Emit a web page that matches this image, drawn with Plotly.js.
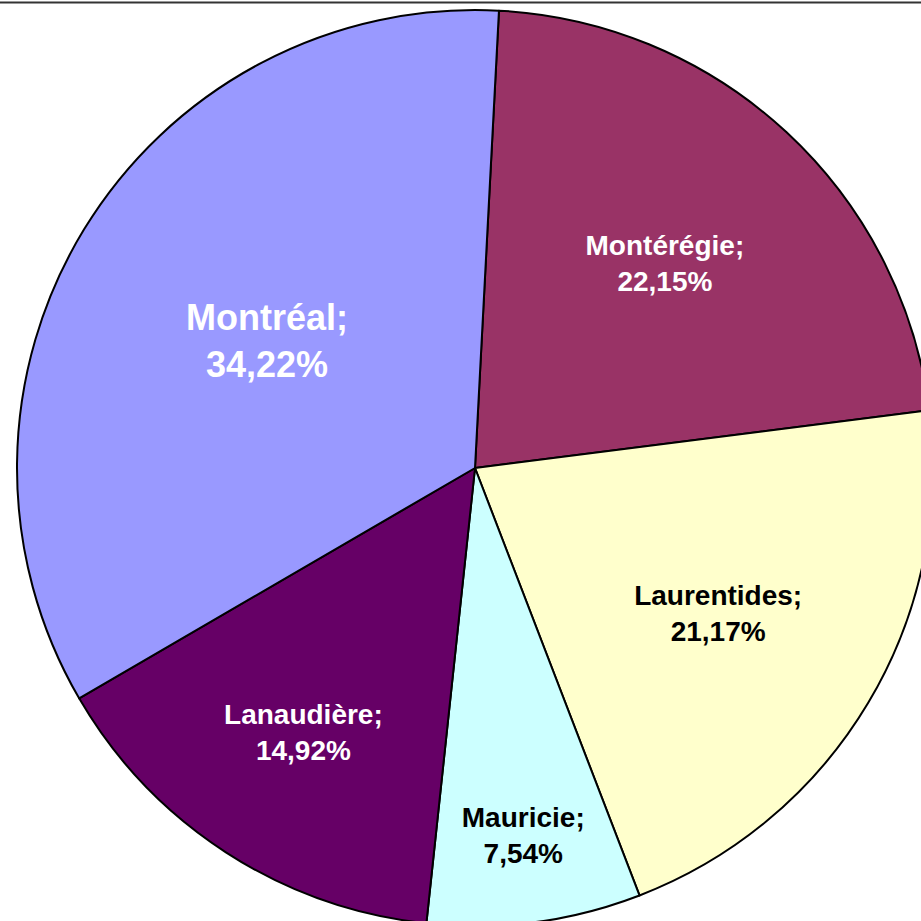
<!DOCTYPE html>
<html>
<head>
<meta charset="utf-8">
<script src="https://cdn.plot.ly/plotly-3.0.1.min.js"></script>
<style>
html,body{margin:0;padding:0;overflow:hidden;background:#fff;}
#chart{width:940px;height:940px;}
</style>
</head>
<body>
<div id="chart"></div>
<script>
const regions = ["Montérégie", "Laurentides", "Mauricie", "Lanaudière", "Montréal"];
const shares = [22.15, 21.17, 7.54, 14.92, 34.22];
const sliceColors = ["#993366", "#FFFFCC", "#CCFFFF", "#660066", "#9999FF"];
const labelColors = ["#FFFFFF", "#000000", "#000000", "#FFFFFF", "#FFFFFF"];
const labelSizes = [28, 28, 28, 28, 36];

const W = 940, H = 940;
const trace = {
  type: "pie",
  labels: regions,
  values: shares,
  sort: false,
  direction: "clockwise",
  rotation: 3,
  marker: {colors: sliceColors, line: {color: "#000000", width: 2}},
  texttemplate: "%{label};<br>%{value:.2f}%",
  textposition: "inside",
  insidetextorientation: "horizontal",
  textfont: {family: "Liberation Sans, Arial, sans-serif", size: labelSizes, color: labelColors, weight: "bold"},
  hoverinfo: "none",
  showlegend: false,
  domain: {x: [17 / W, 933 / W], y: [1 - 926 / H, 1 - 10 / H]}
};
const layout = {
  width: W, height: H,
  margin: {l: 0, r: 0, t: 0, b: 0},
  paper_bgcolor: "#ffffff",
  separators: ", ",
  showlegend: false,
  shapes: [{type: "line", xref: "paper", yref: "paper", x0: 0, x1: 1, y0: 1 - 2.5 / H, y1: 1 - 2.5 / H, line: {color: "#333333", width: 2}}]
};
Plotly.newPlot("chart", [trace], layout, {displayModeBar: false, staticPlot: true});
</script>
</body>
</html>
